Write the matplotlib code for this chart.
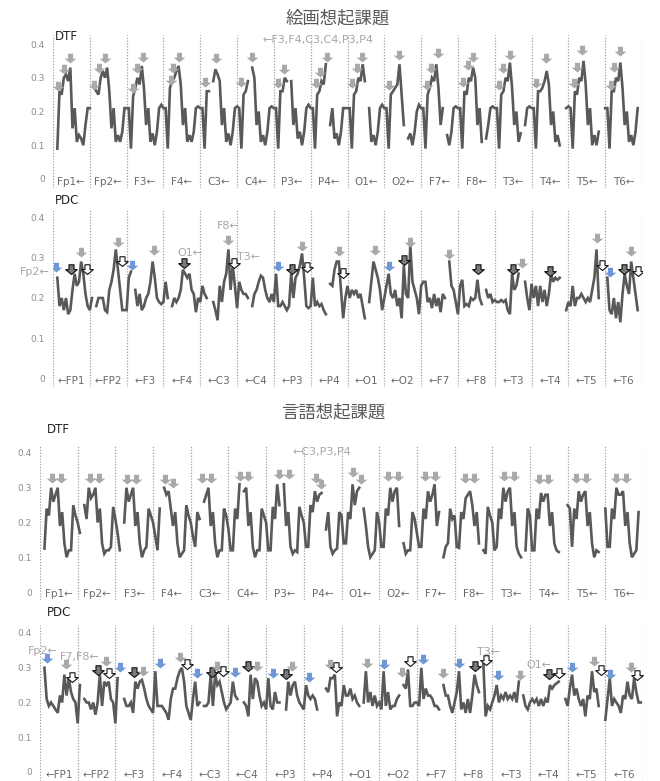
import numpy as np
import matplotlib
matplotlib.use("Agg")
import matplotlib.pyplot as plt
from matplotlib.path import Path

plt.rcParams["font.family"] = ["DejaVu Sans", "Noto Sans CJK JP"]

NA = np.nan
W, H = 660, 781
LINE, TICK, GRID, NOTE, CAT = "#595959", "#8c8c8c", "#a0a0a0", "#a6a6a6", "#6a6a6a"
ARROW_STYLE = {"g": ("#a9a9a9", "#a9a9a9", 0.0),
               "b": ("#6f97d6", "#6f97d6", 0.0),
               "d": ("#7a7a7a", "#111111", 0.8),
               "w": ("#ffffff", "#111111", 0.8)}

DTF_LABELS = ["Fp1←", "Fp2←", "F3←", "F4←", "C3←", "C4←", "P3←", "P4←",
              "O1←", "O2←", "F7←", "F8←", "T3←", "T4←", "T5←", "T6←"]
PDC_LABELS = ["←FP1", "←FP2", "←F3", "←F4", "←C3", "←C4", "←P3", "←P4",
              "←O1", "←O2", "←F7", "←F8", "←T3", "←T4", "←T5", "←T6"]

# 絵画想起課題 DTF: 16 channels x 17 frequency points
PIC_DTF = [
    [0.09, 0.26, 0.25, 0.30, 0.31, 0.29, 0.33, 0.15, 0.21, 0.11, 0.13, 0.12, 0.10, 0.16, 0.21, 0.21, NA],
    [0.27, 0.26, 0.25, 0.30, 0.32, 0.30, 0.33, 0.26, 0.15, 0.21, 0.11, 0.13, 0.11, 0.14, 0.21, 0.21, 0.21],
    [0.09, 0.245, 0.27, 0.30, 0.28, 0.335, 0.27, 0.16, 0.21, 0.11, 0.135, 0.10, 0.14, 0.21, 0.22, 0.21, 0.21],
    [0.09, 0.27, 0.29, 0.30, 0.32, 0.335, 0.28, 0.16, 0.21, 0.11, 0.13, 0.11, 0.14, 0.21, 0.215, 0.21, 0.21],
    [0.09, 0.26, 0.26, NA, 0.29, 0.325, 0.31, 0.29, 0.16, 0.21, 0.11, 0.135, 0.10, 0.14, 0.21, 0.215, 0.21],
    [0.09, 0.25, 0.26, 0.29, NA, 0.33, 0.30, 0.16, 0.20, 0.11, 0.13, 0.10, 0.14, 0.21, 0.215, 0.21, 0.21],
    [0.09, 0.26, 0.26, 0.30, 0.29, NA, 0.29, 0.16, 0.21, 0.12, 0.14, 0.10, 0.14, 0.21, 0.22, 0.21, 0.21],
    [0.09, 0.25, 0.26, 0.29, 0.28, 0.34, NA, 0.16, 0.21, 0.12, 0.135, 0.10, 0.14, 0.21, 0.21, 0.21, 0.21],
    [0.09, 0.25, 0.26, 0.30, 0.29, 0.34, 0.29, NA, 0.21, 0.11, 0.13, 0.10, 0.14, 0.21, 0.22, 0.21, 0.21],
    [0.09, 0.25, 0.26, 0.27, 0.28, 0.34, 0.25, 0.16, NA, 0.12, 0.135, 0.10, 0.14, 0.20, 0.22, 0.21, 0.21],
    [0.09, 0.25, 0.27, 0.30, 0.29, 0.34, 0.27, 0.16, 0.21, NA, 0.13, 0.10, 0.14, 0.21, 0.215, 0.21, 0.21],
    [0.09, 0.26, 0.25, 0.30, 0.29, 0.33, 0.30, 0.16, 0.21, 0.11, NA, 0.12, 0.16, 0.21, 0.215, 0.21, 0.21],
    [0.09, 0.25, 0.26, 0.30, 0.29, 0.345, 0.27, 0.16, 0.20, 0.11, 0.135, NA, 0.16, 0.21, 0.215, 0.21, 0.21],
    [0.09, 0.26, 0.26, 0.27, 0.29, 0.32, 0.28, 0.16, 0.20, 0.11, 0.13, 0.10, NA, NA, 0.21, 0.215, 0.21],
    [0.09, 0.26, 0.25, 0.30, 0.29, 0.35, 0.28, 0.16, 0.21, 0.10, 0.13, 0.10, 0.14, NA, NA, 0.21, 0.21],
    [0.09, 0.26, 0.26, 0.30, 0.29, 0.345, 0.27, 0.16, 0.20, 0.11, 0.13, 0.10, 0.14, 0.21, NA, NA, NA],
]

# 絵画想起課題 PDC
PIC_PDC = [
    [0.25, 0.18, 0.20, 0.17, 0.20, 0.16, 0.17, 0.22, 0.26, 0.23, 0.24, 0.29, 0.26, 0.21, 0.18, 0.17, 0.20],
    [NA, 0.18, 0.20, 0.20, 0.20, 0.17, 0.165, 0.22, 0.24, 0.27, 0.32, 0.27, 0.22, 0.17, 0.17, 0.17, 0.25],
    [0.265, NA, 0.22, 0.18, 0.21, 0.17, 0.18, 0.20, 0.21, 0.24, 0.29, 0.25, 0.20, 0.19, 0.185, 0.19, 0.24],
    [0.20, NA, 0.18, 0.20, 0.19, 0.20, 0.22, 0.27, 0.26, 0.25, 0.26, 0.22, 0.21, 0.165, 0.20, 0.19, 0.23],
    [0.21, 0.20, NA, NA, 0.19, 0.17, 0.145, 0.23, 0.19, 0.24, 0.26, 0.32, 0.22, 0.28, 0.23, 0.175, 0.24],
    [0.22, 0.21, 0.21, 0.20, NA, 0.18, 0.21, 0.22, 0.24, 0.255, 0.25, 0.22, 0.20, 0.19, 0.21, 0.19, 0.26],
    [0.18, 0.18, 0.19, 0.18, 0.17, 0.18, 0.26, 0.20, 0.25, 0.26, 0.28, 0.31, 0.25, 0.18, 0.175, 0.18, 0.25],
    [0.18, 0.19, 0.18, 0.185, 0.17, 0.16, NA, 0.235, 0.23, 0.27, 0.29, 0.29, 0.22, 0.15, 0.20, 0.23, 0.20],
    [0.22, 0.21, 0.22, 0.20, 0.21, 0.18, 0.15, NA, 0.19, 0.24, 0.29, 0.27, 0.25, 0.22, 0.17, 0.20, 0.23],
    [0.26, 0.21, 0.20, 0.22, 0.18, 0.20, 0.15, 0.28, 0.21, 0.20, 0.33, 0.24, 0.22, 0.20, 0.16, 0.23, 0.24],
    [0.24, 0.19, 0.20, 0.175, 0.21, 0.18, 0.20, 0.165, 0.21, 0.20, NA, 0.29, 0.23, 0.22, 0.19, 0.16, 0.23],
    [0.245, 0.18, 0.185, 0.18, 0.20, 0.195, 0.20, 0.245, 0.20, 0.185, NA, 0.22, 0.20, 0.21, 0.19, 0.195, 0.19],
    [0.19, 0.195, 0.19, 0.195, 0.17, 0.16, 0.26, 0.22, 0.23, 0.26, NA, NA, 0.24, 0.20, 0.17, 0.235, 0.20],
    [0.23, 0.18, 0.23, 0.19, 0.22, 0.18, 0.21, 0.26, 0.24, 0.25, 0.245, 0.25, NA, NA, 0.17, 0.19, 0.18],
    [0.23, 0.18, 0.20, 0.20, 0.21, 0.20, 0.19, 0.20, 0.19, 0.22, 0.25, 0.32, 0.20, NA, NA, NA, 0.25],
    [0.17, 0.16, 0.20, 0.15, 0.19, 0.14, 0.21, 0.26, 0.23, 0.21, 0.29, 0.25, 0.21, 0.17, NA, NA, NA],
]

# 言語想起課題 DTF
VERB_DTF = [
    [0.125, 0.24, 0.22, 0.30, 0.26, 0.28, 0.30, 0.19, 0.23, 0.14, 0.10, 0.12, 0.12, 0.25, 0.22, 0.20, 0.17],
    [NA, 0.25, 0.21, 0.30, 0.27, 0.28, 0.30, 0.20, 0.24, 0.14, 0.11, 0.12, 0.12, 0.13, 0.245, 0.21, 0.17],
    [0.12, NA, 0.20, 0.30, 0.26, 0.28, 0.30, 0.19, 0.23, 0.14, 0.10, 0.12, 0.13, 0.24, 0.22, 0.20, 0.16],
    [0.12, 0.24, NA, 0.30, 0.28, 0.29, 0.24, 0.19, 0.23, 0.14, 0.10, 0.11, 0.12, 0.25, 0.22, 0.20, 0.16],
    [0.13, 0.23, 0.21, NA, 0.26, 0.28, 0.30, 0.19, 0.23, 0.14, 0.10, 0.12, 0.12, 0.24, 0.22, 0.18, 0.12],
    [0.12, 0.24, 0.21, 0.31, NA, 0.29, 0.30, 0.19, 0.23, 0.13, 0.10, 0.12, 0.12, 0.24, 0.22, 0.20, 0.12],
    [0.12, 0.245, 0.21, 0.31, 0.25, NA, 0.31, 0.19, 0.23, 0.13, 0.11, 0.12, 0.115, 0.245, 0.22, 0.20, 0.13],
    [0.13, 0.25, 0.23, 0.29, 0.26, 0.28, 0.285, NA, 0.18, 0.23, 0.13, 0.11, 0.12, 0.125, 0.23, 0.22, 0.14],
    [0.14, 0.23, 0.21, 0.31, 0.25, 0.29, 0.30, NA, 0.24, 0.19, 0.13, 0.10, 0.11, 0.12, 0.23, 0.20, 0.13],
    [0.13, 0.24, 0.22, 0.30, 0.26, 0.29, 0.30, 0.19, NA, 0.14, 0.11, 0.12, 0.12, 0.23, 0.21, 0.17, 0.13],
    [0.13, 0.24, 0.21, 0.29, 0.26, 0.28, 0.31, 0.19, 0.23, NA, 0.10, 0.13, 0.14, 0.24, 0.21, 0.22, 0.13],
    [0.127, 0.23, 0.21, 0.27, 0.28, 0.29, 0.25, 0.19, 0.23, 0.14, NA, 0.12, 0.11, 0.245, 0.22, 0.20, 0.12],
    [0.13, 0.24, 0.21, 0.30, 0.26, 0.29, 0.30, 0.19, 0.23, 0.13, 0.11, 0.10, NA, 0.12, 0.24, 0.22, 0.12],
    [0.12, 0.24, 0.21, 0.285, 0.26, 0.28, 0.28, 0.19, 0.23, 0.14, 0.12, 0.115, NA, NA, NA, 0.25, 0.24],
    [0.13, 0.24, 0.21, 0.29, 0.26, 0.28, 0.29, 0.19, 0.23, 0.14, 0.10, 0.12, 0.115, NA, NA, 0.24, 0.13],
    [0.13, 0.24, 0.21, 0.30, 0.28, 0.28, 0.29, 0.19, 0.23, 0.14, 0.10, 0.11, 0.12, 0.23, NA, NA, NA],
]

# 言語想起課題 PDC
VERB_PDC = [
    [0.30, 0.21, 0.19, 0.20, 0.19, 0.18, 0.17, 0.22, 0.20, 0.28, 0.22, 0.27, 0.23, 0.21, 0.20, 0.14, 0.25],
    [NA, 0.21, 0.20, 0.20, 0.18, 0.20, 0.165, 0.20, 0.28, 0.19, 0.26, 0.25, 0.26, 0.21, 0.20, 0.14, 0.27],
    [NA, NA, 0.21, 0.19, 0.19, 0.20, 0.17, 0.26, 0.24, 0.26, 0.265, 0.24, 0.21, 0.19, 0.18, 0.17, 0.29],
    [0.19, 0.19, 0.19, 0.18, 0.17, 0.15, 0.21, 0.24, 0.24, 0.27, 0.29, 0.30, 0.26, 0.19, 0.17, 0.15, 0.21],
    [0.26, 0.19, 0.20, NA, 0.19, 0.19, 0.20, 0.28, 0.19, 0.28, 0.25, 0.26, 0.23, 0.20, 0.18, 0.19, 0.20],
    [0.26, 0.22, 0.21, NA, NA, 0.20, 0.19, 0.16, 0.28, 0.21, 0.27, 0.26, 0.22, 0.19, 0.20, 0.18, 0.27],
    [0.19, 0.18, 0.23, 0.20, 0.20, NA, NA, 0.18, 0.26, 0.22, 0.25, 0.26, 0.22, 0.20, 0.19, 0.18, 0.25],
    [0.22, 0.21, 0.22, 0.21, 0.18, NA, NA, NA, 0.24, 0.23, 0.27, 0.27, 0.28, 0.16, 0.20, 0.19, 0.25],
    [0.22, 0.22, 0.24, 0.21, 0.22, 0.20, 0.19, NA, 0.20, 0.29, 0.20, 0.23, 0.19, 0.22, 0.19, 0.20, 0.18],
    [0.29, 0.19, 0.23, 0.18, 0.19, 0.19, 0.21, 0.22, NA, 0.25, 0.24, 0.295, 0.19, 0.19, 0.20, 0.20, 0.19],
    [0.30, 0.21, 0.24, 0.22, 0.22, 0.21, 0.19, 0.19, 0.18, NA, 0.25, 0.22, 0.22, 0.19, 0.17, 0.20, 0.23],
    [0.29, 0.18, 0.20, 0.17, 0.21, 0.17, 0.22, 0.28, 0.25, 0.23, NA, 0.31, 0.16, 0.19, 0.18, 0.20, 0.22],
    [0.25, 0.20, 0.22, 0.21, 0.23, 0.21, 0.22, 0.21, 0.23, 0.20, 0.26, NA, 0.22, 0.19, 0.18, 0.20, 0.21],
    [0.20, 0.21, 0.19, 0.21, 0.19, 0.21, 0.20, 0.25, 0.24, 0.25, 0.255, 0.26, NA, NA, 0.21, 0.19, 0.24],
    [0.28, 0.22, 0.24, 0.21, 0.19, 0.21, 0.16, 0.22, 0.21, 0.29, 0.23, 0.24, 0.19, NA, NA, 0.15, 0.21],
    [0.27, 0.19, 0.21, 0.20, 0.19, 0.17, 0.22, 0.21, 0.26, 0.22, 0.21, 0.27, 0.23, 0.20, 0.20, NA, NA],
]

# arrows: (channel, frequency index, tip value, kind)
PIC_DTF_ARROWS = [
    (0, 0.3, .262, "g"), (0, 2.9, .311, "g"), (0, 5.7, .343, "g"),
    (1, 0.0, .264, "g"), (1, 2.3, .315, "g"), (1, 5.1, .343, "g"),
    (2, 0.8, .256, "g"), (2, 2.6, .315, "g"), (2, 5.4, .348, "g"),
    (3, 1.5, .279, "g"), (3, 2.6, .315, "g"), (3, 5.1, .348, "g"),
    (4, 0.0, .272, "g"), (4, 5.2, .343, "g"),
    (5, 0.0, .272, "g"), (5, 5.1, .346, "g"),
    (6, 0.0, .269, "g"), (6, 2.6, .311, "g"),
    (7, 0.3, .269, "g"), (7, 2.2, .303, "g"), (7, 5.4, .348, "g"),
    (8, 0.3, .269, "g"), (8, 2.2, .313, "g"), (8, 4.9, .348, "g"),
    (9, 0.3, .264, "g"), (9, 4.6, .353, "g"),
    (10, 0.6, .264, "g"), (10, 2.6, .313, "g"), (10, 5.7, .358, "g"),
    (11, 0.3, .272, "g"), (11, 2.6, .323, "g"), (11, 4.9, .348, "g"),
    (12, 0.0, .264, "g"), (12, 1.8, .313, "g"), (12, 4.9, .353, "g"),
    (13, 0.0, .269, "g"), (13, 4.6, .343, "g"),
    (14, 0.8, .269, "g"), (14, 1.8, .318, "g"), (14, 4.3, .368, "g"),
    (15, 0.8, .264, "g"), (15, 2.3, .318, "g"), (15, 4.9, .363, "g"),
]
PIC_PDC_ARROWS = [
    (0, -0.5, .265, "b"), (0, 6.5, .26, "d"), (0, 10.8, .30, "g"), (0, 13.7, .26, "w"),
    (1, 10.8, .325, "g"), (1, 12.8, .278, "w"),
    (2, 0.3, .27, "b"), (2, 10.5, .305, "g"),
    (3, 7.4, .275, "d"),
    (4, 10.6, .33, "g"), (4, 13.4, .275, "w"),
    (6, 0.0, .267, "b"), (6, 6.5, .26, "d"), (6, 11.1, .315, "g"), (6, 13.1, .263, "w"),
    (7, 11.1, .303, "g"), (7, 12.9, .25, "w"),
    (8, 10.8, .307, "g"),
    (9, 0.3, .267, "b"), (9, 7.2, .282, "d"), (9, 10.0, .326, "g"),
    (10, 10.8, .296, "g"),
    (11, 7.2, .26, "d"),
    (12, 6.6, .26, "d"), (12, 10.5, .274, "g"),
    (13, 6.6, .255, "d"),
    (14, 11.2, .336, "g"), (14, 13.5, .27, "w"),
    (15, 0.0, .253, "b"), (15, 6.5, .26, "d"), (15, 10.0, .303, "g"), (15, 13.1, .255, "w"),
]
VERB_DTF_ARROWS = [
    (0, 3.3, .314, "g"), (0, 7.5, .314, "g"), (1, 3.6, .315, "g"), (1, 7.8, .315, "g"),
    (2, 3.3, .31, "g"), (2, 7.2, .31, "g"), (3, 3.3, .31, "g"), (3, 7.0, .30, "g"),
    (4, 3.3, .315, "g"), (4, 7.2, .315, "g"), (5, 3.0, .32, "g"), (5, 7.0, .32, "g"),
    (6, 3.9, .326, "g"), (6, 8.3, .326, "g"), (7, 3.4, .315, "g"), (7, 5.9, .296, "g"),
    (8, 3.3, .33, "g"), (8, 6.6, .31, "g"), (9, 2.2, .32, "g"), (9, 6.6, .32, "g"),
    (10, 1.8, .32, "g"), (10, 6.3, .32, "g"), (11, 2.5, .315, "g"), (11, 6.7, .315, "g"),
    (12, 3.1, .32, "g"), (12, 7.8, .32, "g"), (13, 1.9, .31, "g"), (13, 6.0, .31, "g"),
    (14, 1.8, .315, "g"), (14, 6.3, .315, "g"), (15, 3.0, .315, "g"), (15, 7.2, .315, "g"),
]
VERB_PDC_ARROWS = [
    (0, 1.0, .314, "b"), (0, 9.7, .295, "g"), (0, 12.6, .26, "w"),
    (1, 7.3, .28, "d"), (1, 10.8, .304, "g"), (1, 12.3, .27, "w"),
    (2, 0.3, .287, "b"), (2, 6.3, .273, "d"), (2, 10.5, .275, "g"),
    (3, 1.3, .30, "b"), (3, 10.1, .316, "g"), (3, 13.4, .295, "w"),
    (4, 0.7, .27, "b"), (4, 7.5, .273, "d"), (4, 10.0, .29, "g"), (4, 12.4, .277, "w"),
    (5, 1.0, .273, "b"), (5, 7.0, .29, "d"), (5, 11.1, .29, "g"),
    (6, 1.2, .27, "b"), (6, 7.0, .268, "d"), (6, 9.8, .29, "g"),
    (7, 0.4, .258, "b"), (7, 9.7, .295, "g"), (7, 12.7, .287, "w"),
    (8, 9.6, .30, "g"),
    (9, 0.0, .295, "b"), (9, 8.5, .273, "g"), (9, 11.8, .306, "w"),
    (10, 0.9, .312, "b"), (10, 9.9, .27, "g"),
    (11, 0.0, .30, "b"), (11, 7.0, .29, "d"), (11, 12.3, .309, "w"),
    (12, 0.6, .266, "b"), (12, 10.3, .266, "g"),
    (13, 6.4, .268, "d"), (13, 11.2, .27, "w"),
    (14, 0.0, .288, "b"), (14, 10.1, .306, "g"), (14, 13.1, .28, "w"),
    (15, 0.3, .268, "b"), (15, 9.7, .287, "g"), (15, 12.3, .266, "w"),
]

PIC_DTF_NOTES = [("←F3,F4,C3,C4,P3,P4", 5.68, 0.412)]
PIC_PDC_NOTES = [("Fp2←", -0.9, 0.264), ("O1←", 3.37, 0.311), ("F8←", 4.46, 0.378), ("T3←", 5.0, 0.301)]
VERB_DTF_NOTES = [("←C3,P3,P4", 6.69, 0.403)]
VERB_PDC_NOTES = [("Fp2←", -0.32, 0.348), ("F7,F8←", 0.53, 0.331), ("T3←", 11.6, 0.345), ("O1←", 12.9, 0.308)]

NPT = 17
# down-pointing block arrow, tip at the origin
ARROW = Path([(0, 0), (-0.6, 0.5), (-0.26, 0.5), (-0.26, 1.0), (0.26, 1.0), (0.26, 0.5), (0.6, 0.5), (0, 0)],
             [Path.MOVETO] + [Path.LINETO] * 6 + [Path.CLOSEPOLY])


def panel(fig, box, ylim, series, arrows, notes, labels, label_y):
    l, t, r, b = box
    ax = fig.add_axes([l / W, 1 - b / H, (r - l) / W, (b - t) / H])
    ax.set_xlim(0, 16)
    ax.set_ylim(*ylim)
    for s in ax.spines.values():
        s.set_visible(False)
    ax.set_xticks([])
    ax.set_yticks([0, 0.1, 0.2, 0.3, 0.4])
    ax.set_yticklabels(["0", "0.1", "0.2", "0.3", "0.4"])
    ax.tick_params(axis="y", length=0, pad=6, labelsize=6.5, labelcolor=TICK)
    for i in range(17):
        ax.axvline(i, color=GRID, lw=0.9, ls=(0, (1, 1.3)), zorder=1)

    y = np.concatenate([np.array(row, dtype=float) for row in series])
    x = (np.arange(len(y)) + 2) / NPT
    ax.plot(x, y, color=LINE, lw=1.9, zorder=2, solid_joinstyle="miter")

    for sec, j, tip, kind in arrows:
        fc, ec, mew = ARROW_STYLE[kind]
        ax.plot(sec + (j + 2) / NPT, tip, marker=ARROW, ms=14, mfc=fc, mec=ec, mew=mew,
                ls="none", zorder=3)

    for txt, nx, ny in notes:
        ax.text(nx, ny, txt, ha="left", va="center", fontsize=8, color=NOTE, zorder=4)

    for i, lab in enumerate(labels):
        ax.text(i + 0.5, label_y, lab, ha="center", va="center", fontsize=7.5, color=CAT)
    return ax


fig = plt.figure(figsize=(W / 100, H / 100), dpi=100)

panel(fig, (53, 35, 642, 188), (-0.0267, 0.4267), PIC_DTF, PIC_DTF_ARROWS, PIC_DTF_NOTES, DTF_LABELS, -0.009)
panel(fig, (53, 210, 642, 387), (-0.0198, 0.4173), PIC_PDC, PIC_PDC_ARROWS, PIC_PDC_NOTES, PDC_LABELS, -0.005)
panel(fig, (40, 445, 643, 600), (-0.023, 0.423), VERB_DTF, VERB_DTF_ARROWS, VERB_DTF_NOTES, DTF_LABELS, -0.006)
panel(fig, (40, 625, 643, 781), (-0.026, 0.423), VERB_PDC, VERB_PDC_ARROWS, VERB_PDC_NOTES, PDC_LABELS, -0.009)

fig.text(338 / W, 1 - 18 / H, "絵画想起課題", ha="center", va="center", fontsize=12.5, color=LINE)
fig.text(333 / W, 1 - 412 / H, "言語想起課題", ha="center", va="center", fontsize=12.5, color=LINE)
for name, px, py in [("DTF", 55, 37), ("PDC", 55, 200), ("DTF", 47, 429), ("PDC", 47, 613)]:
    fig.text(px / W, 1 - py / H, name, ha="left", va="center", fontsize=8.5, color="#222222")

fig.savefig("out.png", dpi=100)
